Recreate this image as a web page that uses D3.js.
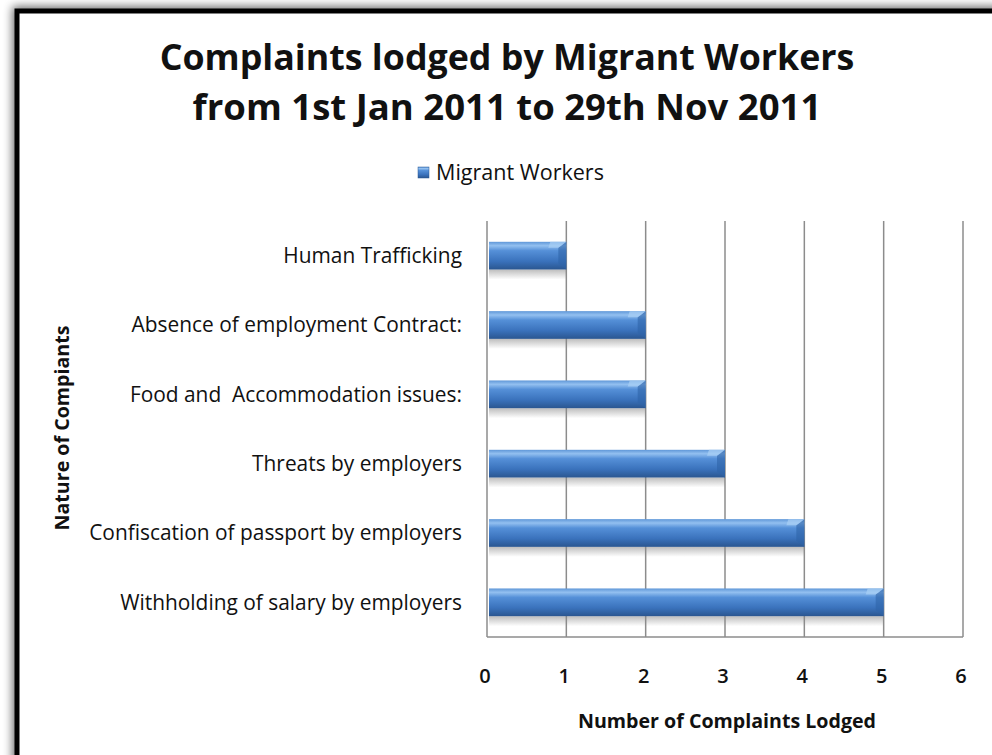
<!DOCTYPE html>
<html>
<head>
<meta charset="utf-8">
<script src="https://cdn.jsdelivr.net/npm/d3@7"></script>
<style>
  body { margin: 0; background: #fff; }
  text { font-family: "Open Sans", Lato, sans-serif; fill: #111; }
</style>
</head>
<body>
<svg id="chart" width="992" height="755"></svg>
<script>
// data, top to bottom as drawn
const categories = [
  'Human Trafficking',
  'Absence of employment Contract:',
  'Food and  Accommodation issues:',
  'Threats by employers',
  'Confiscation of passport by employers',
  'Withholding of salary by employers'
];
const complaints = [1, 2, 2, 3, 4, 5];
const xTicks = [0, 1, 2, 3, 4, 5, 6];
const seriesName = 'Migrant Workers';

const svg = d3.select('#chart');
const defs = svg.append('defs');

// shrink/grow a text's font so it spans roughly the width seen in the picture
function fitText(sel, target) {
  const size = parseFloat(sel.style('font-size'));
  const w = sel.node().getComputedTextLength();
  const s = size * target / w;
  sel.style('font-size', s + 'px');
  return s;
}

// frame shadow
const shadow = defs.append('filter').attr('id', 'frameShadow')
  .attr('x', '-10%').attr('y', '-10%').attr('width', '120%').attr('height', '120%');
shadow.append('feGaussianBlur').attr('in', 'SourceAlpha').attr('stdDeviation', 5);
shadow.append('feOffset').attr('dx', -2).attr('dy', -2).attr('result', 'blur');
shadow.append('feComponentTransfer').append('feFuncA').attr('type', 'linear').attr('slope', 0.6);
const merge = shadow.append('feMerge');
merge.append('feMergeNode');
merge.append('feMergeNode').attr('in', 'SourceGraphic');

svg.append('rect')
  .attr('x', 17).attr('y', 11)
  .attr('width', 1000).attr('height', 800)
  .attr('fill', '#fff')
  .attr('stroke', '#000')
  .attr('stroke-width', 5)
  .attr('filter', 'url(#frameShadow)');

// bar gradient (cylinder look)
const grad = defs.append('linearGradient').attr('id', 'barGrad')
  .attr('x1', 0).attr('y1', 0).attr('x2', 0).attr('y2', 1);
grad.append('stop').attr('offset', '0%').attr('stop-color', '#5f97d8');
grad.append('stop').attr('offset', '14%').attr('stop-color', '#93c0f0');
grad.append('stop').attr('offset', '32%').attr('stop-color', '#5590d8');
grad.append('stop').attr('offset', '70%').attr('stop-color', '#3a72bc');
grad.append('stop').attr('offset', '100%').attr('stop-color', '#2a5690');

const shGrad = defs.append('linearGradient').attr('id', 'barShadow')
  .attr('x1', 0).attr('y1', 0).attr('x2', 0).attr('y2', 1);
shGrad.append('stop').attr('offset', '0%').attr('stop-color', '#888').attr('stop-opacity', 0.55);
shGrad.append('stop').attr('offset', '100%').attr('stop-color', '#888').attr('stop-opacity', 0);

// plot area
const margin = { top: 221, left: 487, right: 29, bottom: 118 };
const width = 992 - margin.left - margin.right;
const height = 755 - margin.top - margin.bottom;

const x = d3.scaleLinear().domain([0, 6]).range([0, width]);
const y = d3.scaleBand().domain(categories).range([0, height]).paddingInner(0.6).paddingOuter(0.3);

const g = svg.append('g').attr('transform', `translate(${margin.left},${margin.top})`);

// gridlines
g.selectAll('.grid')
  .data(xTicks)
  .enter()
  .append('line')
  .attr('x1', d => x(d)).attr('x2', d => x(d))
  .attr('y1', 0).attr('y2', height)
  .attr('stroke', '#8c8c8c')
  .attr('stroke-width', 1.5);

g.append('line')
  .attr('x1', 0).attr('x2', width)
  .attr('y1', height).attr('y2', height)
  .attr('stroke', '#8c8c8c')
  .attr('stroke-width', 1.5);

// bars
const rows = categories.map((c, i) => ({ cat: c, val: complaints[i] }));
const bars = g.selectAll('.bar').data(rows).enter().append('g');

bars.append('rect')
  .attr('x', 2)
  .attr('y', d => y(d.cat) + y.bandwidth())
  .attr('width', d => x(d.val) - 2)
  .attr('height', 10)
  .attr('fill', 'url(#barShadow)');

bars.append('rect')
  .attr('x', 2)
  .attr('y', d => y(d.cat))
  .attr('width', d => x(d.val) - 2)
  .attr('height', y.bandwidth())
  .attr('fill', 'url(#barGrad)');

// bevel at the right end
bars.append('path')
  .attr('d', d => {
    const x1 = x(d.val), y0 = y(d.cat), h = y.bandwidth();
    return `M${x1},${y0} L${x1},${y0 + h} L${x1 - 8},${y0 + h - 6} L${x1 - 8},${y0 + 6} Z`;
  })
  .attr('fill', '#2f64a8')
  .attr('opacity', 0.6);
bars.append('path')
  .attr('d', d => {
    const x1 = x(d.val), y0 = y(d.cat);
    return `M${x1 - 16},${y0} L${x1},${y0} L${x1 - 8},${y0 + 6} L${x1 - 18},${y0 + 6} Z`;
  })
  .attr('fill', '#a9d0f5')
  .attr('opacity', 0.7);

// category labels
const catLabels = g.selectAll('.cat')
  .data(categories)
  .enter()
  .append('text')
  .attr('x', -25)
  .attr('y', d => y(d) + y.bandwidth() / 2)
  .attr('dy', '0.35em')
  .attr('text-anchor', 'end')
  .style('font-size', '18px')
  .style('white-space', 'pre')
  .text(d => d);
const catSize = fitText(catLabels.filter((d, i) => i === 5), 342);
catLabels.style('font-size', catSize + 'px');

// x tick labels
g.selectAll('.tick')
  .data(xTicks)
  .enter()
  .append('text')
  .attr('x', d => x(d) - 2)
  .attr('y', height + 46)
  .attr('text-anchor', 'middle')
  .style('font-size', '20px')
  .style('font-weight', 600)
  .text(d => d);

// titles
const t1 = svg.append('text')
  .attr('x', 507).attr('y', 70)
  .attr('text-anchor', 'middle')
  .style('font-size', '35px').style('font-weight', 'bold')
  .text('Complaints lodged by Migrant Workers');
fitText(t1, 695);
const t2 = svg.append('text')
  .attr('x', 507).attr('y', 120)
  .attr('text-anchor', 'middle')
  .style('font-size', '35px').style('font-weight', 'bold')
  .text('from 1st Jan 2011 to 29th Nov 2011');
fitText(t2, 629);

const xt = svg.append('text')
  .attr('x', 727).attr('y', 728)
  .attr('text-anchor', 'middle')
  .style('font-size', '17px').style('font-weight', 'bold')
  .text('Number of Complaints Lodged');
fitText(xt, 298);

const yt = svg.append('text')
  .attr('transform', 'translate(69,428) rotate(-90)')
  .attr('text-anchor', 'middle')
  .style('font-size', '16px').style('font-weight', 'bold')
  .text('Nature of Compiants');
fitText(yt, 205);

// legend
svg.append('rect')
  .attr('x', 418).attr('y', 167)
  .attr('width', 11).attr('height', 11)
  .attr('fill', 'url(#barGrad)')
  .attr('stroke', '#2b5a94').attr('stroke-width', 0.5);
const lg = svg.append('text')
  .attr('x', 436).attr('y', 180)
  .style('font-size', '18px')
  .text(seriesName);
fitText(lg, 168);
</script>
</body>
</html>
